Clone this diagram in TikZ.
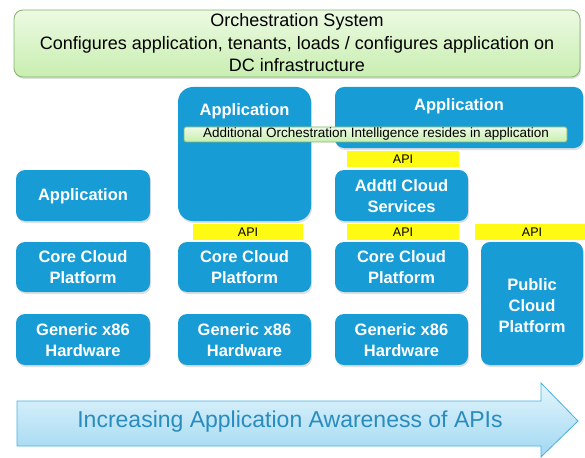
\documentclass[tikz,border=0pt]{standalone}
\usepackage{fontspec}
\setmainfont{Liberation Sans}
\usetikzlibrary{shadows}
\definecolor{cblue}{RGB}{24,156,214}
\definecolor{orchtop}{RGB}{236,250,226}
\definecolor{orchbot}{RGB}{200,238,176}
\definecolor{orchline}{RGB}{130,180,110}
\definecolor{apiyel}{RGB}{255,250,20}
\definecolor{arrtop}{RGB}{228,245,252}
\definecolor{arrbot}{RGB}{160,216,242}
\definecolor{arrline}{RGB}{70,176,224}
\definecolor{arrtext}{RGB}{40,140,190}
\tikzset{
  bluebox/.style={fill=cblue, rounded corners=9pt, drop shadow={shadow xshift=1pt, shadow yshift=-2pt, opacity=0.25}},
  boxtext/.style={text=white, font=\fontsize{16.5}{21}\selectfont\bfseries, align=center},
  apibox/.style={fill=apiyel, draw=none},
  apitext/.style={font=\fontsize{12.5}{14}\selectfont},
  greenbar/.style={top color=orchtop, bottom color=orchbot, draw=orchline, line width=0.8pt, rounded corners=2pt},
}
\begin{document}
\begin{tikzpicture}[x=1pt,y=-1pt]
\useasboundingbox (0,0) rectangle (585,457);
% orchestration
\draw[top color=orchtop, bottom color=orchbot, draw=orchline, line width=0.8pt, rounded corners=9pt, drop shadow={shadow xshift=1pt, shadow yshift=-2pt, opacity=0.25}] (14,10) rectangle (580,77);
\node[font=\fontsize{18}{22.5}\selectfont, align=center] (orch) at (297,43) {Orchestration System\\Configures application, tenants, loads / configures application on\\DC infrastructure};
% column 1
\fill[bluebox] (16,170) rectangle (150,221);
\node[boxtext] (app1) at (83,196) {Application};
\fill[bluebox] (16,242) rectangle (150,292);
\node[boxtext] (core1) at (83,267) {Core Cloud\\Platform};
\fill[bluebox] (16,314) rectangle (150,365);
\node[boxtext] (hw1) at (83,340) {Generic x86\\Hardware};
% column 2
\fill[bluebox, rounded corners=15pt] (178,87) rectangle (311,221);
\node[boxtext] (app2) at (244.5,111) {Application};
\fill[apibox] (193,224) rectangle (303,240);
\node[apitext] (api2) at (248,232) {API};
\fill[bluebox] (178,242) rectangle (311,292);
\node[boxtext] (core2) at (244.5,267) {Core Cloud\\Platform};
\fill[bluebox] (178,314) rectangle (311,365);
\node[boxtext] (hw2) at (244.5,340) {Generic x86\\Hardware};
% column 3
\fill[bluebox] (335,87) rectangle (583,148);
\node[boxtext] (app3) at (459,106) {Application};
\fill[apibox] (347,151) rectangle (459,167);
\node[apitext] (api3a) at (403,159) {API};
\fill[bluebox] (335,170) rectangle (468,221);
\node[boxtext] (addtl) at (401.5,196) {Addtl Cloud\\Services};
\fill[apibox] (347,224) rectangle (459,240);
\node[apitext] (api3b) at (403,232) {API};
\fill[bluebox] (335,242) rectangle (468,292);
\node[boxtext] (core3) at (401.5,267) {Core Cloud\\Platform};
\fill[bluebox] (335,314) rectangle (468,365);
\node[boxtext] (hw3) at (401.5,340) {Generic x86\\Hardware};
% column 4
\fill[apibox] (475,224) rectangle (585,240);
\node[apitext] (api4) at (532,232) {API};
\fill[bluebox] (481,242) rectangle (583,365);
\node[boxtext] (pub) at (532,306) {Public\\Cloud\\Platform};
% green bar
\draw[greenbar] (184,127) rectangle (567,142);
\node[font=\fontsize{13.5}{15}\selectfont] (intel) at (376,134.5) {Additional Orchestration Intelligence resides in application};
% arrow
\draw[top color=arrtop, bottom color=arrbot, draw=arrline, line width=0.8pt] (17,401) -- (541,401) -- (541,383) -- (578,421) -- (541,457) -- (541,446) -- (17,446) -- cycle;
\node[text=arrtext, font=\fontsize{23}{26}\selectfont] (arrtxt) at (290,422) {Increasing Application Awareness of APIs};
\end{tikzpicture}
\end{document}
